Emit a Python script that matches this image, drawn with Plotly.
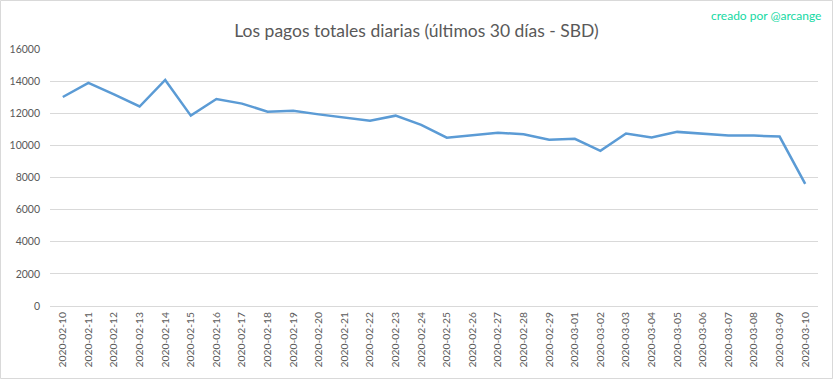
import plotly.graph_objects as go

dates = ["2020-02-10", "2020-02-11", "2020-02-12", "2020-02-13", "2020-02-14",
         "2020-02-15", "2020-02-16", "2020-02-17", "2020-02-18", "2020-02-19",
         "2020-02-20", "2020-02-21", "2020-02-22", "2020-02-23", "2020-02-24",
         "2020-02-25", "2020-02-26", "2020-02-27", "2020-02-28", "2020-02-29",
         "2020-03-01", "2020-03-02", "2020-03-03", "2020-03-04", "2020-03-05",
         "2020-03-06", "2020-03-07", "2020-03-08", "2020-03-09", "2020-03-10"]
payouts_sbd = [13010, 13890, 13170, 12420, 14070, 11850, 12890, 12600, 12100, 12160,
               11930, 11730, 11540, 11850, 11280, 10480, 10650, 10790, 10690, 10350,
               10410, 9660, 10740, 10490, 10840, 10720, 10610, 10610, 10550, 7600]
y_ticks = [0, 2000, 4000, 6000, 8000, 10000, 12000, 14000, 16000]

title_text = "Los pagos totales diarias (últimos 30 días - SBD)"
credit_text = "creado por @arcange"

W, H = 833, 379
L, R, T, B = 50, 15, 49, 73
pw, ph = W - L - R, H - T - B

fig = go.Figure()
fig.add_trace(go.Scatter(
    x=dates, y=payouts_sbd, mode="lines",
    line=dict(color="#5b9bd5", width=2.5),
    hoverinfo="x+y", showlegend=False,
))

font_family = "Lato, 'Open Sans', 'DejaVu Sans', sans-serif"
fig.update_layout(
    width=W, height=H,
    margin=dict(l=L, r=R, t=T, b=B, autoexpand=False),
    paper_bgcolor="white", plot_bgcolor="white",
    font=dict(family=font_family, color="#595959", size=11),
    title=dict(text=title_text, x=0.5, xanchor="center", y=1 - 31 / H, yanchor="middle",
               font=dict(size=17.5, color="#595959", family=font_family)),
    xaxis=dict(type="category", range=[-0.5, len(dates) - 0.5], tickangle=-90,
               showgrid=False, zeroline=False, showline=False, ticks="", automargin=False,
               tickfont=dict(size=10.3, color="#595959"), ticklabelstandoff=3),
    yaxis=dict(range=[0, 16000], tickvals=y_ticks, ticktext=[str(v) for v in y_ticks],
               showgrid=True, gridcolor="#d9d9d9", gridwidth=1, zeroline=True,
               zerolinecolor="#d9d9d9", zerolinewidth=1, showline=False, ticks="",
               automargin=False, tickfont=dict(size=10.5, color="#595959"),
               ticklabelstandoff=9),
    annotations=[dict(text=credit_text, xref="paper", yref="paper",
                      x=(823 - L) / pw, y=(H - B - 15) / ph, xanchor="right", yanchor="middle",
                      showarrow=False, font=dict(size=12, color="#14d9a3", family=font_family))],
    shapes=[dict(type="rect", xref="paper", yref="paper",
                 x0=(0.5 - L) / pw, x1=(832.5 - L) / pw,
                 y0=(H - B - 378.5) / ph, y1=(H - B - 0.5) / ph,
                 line=dict(color="#d9d9d9", width=1), layer="below")],
)

fig.write_html("out.html", config={"displayModeBar": False},
               post_script="document.body.style.margin='0';document.body.style.padding='0';")
